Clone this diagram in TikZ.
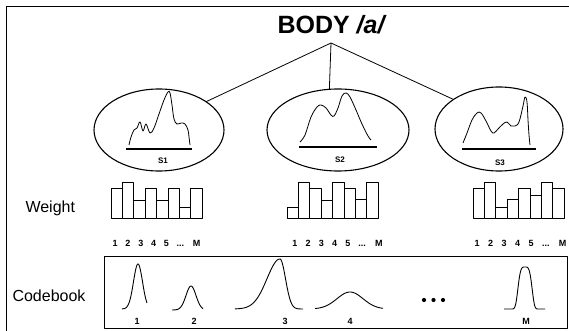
\documentclass[tikz,border=0pt]{standalone}
\usepackage{fontspec}
\setmainfont{Liberation Sans}
\usetikzlibrary{shapes.geometric}
\begin{document}
\begin{tikzpicture}[x=1pt,y=-1pt,line join=round,
  oval/.style={ellipse,draw,line width=1.1pt,inner sep=0pt,outer sep=0pt},
  link/.style={line width=0.8pt},
  spec/.style={line width=0.8pt},
  base/.style={line width=1.6pt},
  slbl/.style={font=\bfseries\fontsize{8}{8}\selectfont},
  bar/.style={draw,line width=0.8pt},
  idx/.style={font=\bfseries\fontsize{9}{9}\selectfont},
  side/.style={font=\fontsize{16}{16}\selectfont,anchor=base west},
  gauss/.style={line width=0.9pt,smooth}]
\useasboundingbox (0,0) rectangle (569,331);
% outer frame (clipped at right and bottom)
\draw[line width=1pt] (6.5,331) -- (6.5,7) -- (569,7);
% title
\node[anchor=base,inner sep=0pt,font=\bfseries\fontsize{25}{25}\selectfont] (title) at (331,34) {BODY \itshape/a/};
\coordinate (apex) at (331,43);
% ellipses
\node[oval,minimum width=130pt,minimum height=82pt] (e1) at (159,130) {};
\node[oval,minimum width=142pt,minimum height=82pt] (e2) at (338,130) {};
\node[oval,minimum width=128pt,minimum height=84pt] (e3) at (499,129) {};
\draw[link] (apex) -- (e1.31);
\draw[link] (apex) -- (e2.102);
\draw[link] (apex) -- (e3.147);
% spectra in ellipses
\draw[spec] plot[smooth,tension=0.6] coordinates {(129,145) (131,137) (134,130) (137,128) (140,122) (143,131) (146,124) (150,133) (154,128) (159,114) (164,100) (168,92) (170,93) (172,105) (174,119) (177,124) (181,123) (185,124) (188,130) (189,137) (190,145)};
\draw[base] (126,149) -- (192,149);
\node[slbl] (s1) at (163,161) {S1};
\draw[spec] plot[smooth,tension=0.6] coordinates {(300,142) (305,135) (311,117) (317,107) (321,105) (326,108) (331,115) (334,116) (338,108) (342,96) (346,93) (350,97) (356,110) (362,124) (368,136) (371,140)};
\draw[base] (299,147) -- (377,147);
\node[slbl] (s2) at (340,160) {S2};
\draw[spec] plot[smooth,tension=0.6] coordinates {(463,143) (467,133) (472,120) (477,113) (481,113) (486,121) (491,131) (494,133) (498,129) (503,124) (507,122) (511,126) (515,126) (519,122) (523,106) (525,97) (527,102) (528,120) (529,135) (530,145)};
\draw[base] (462,149) -- (536,149);
\node[slbl] (s3) at (500,163) {S3};
% weights
\node[side] (weight) at (22,212) {Weight};
\foreach \x/\t in {111/188,122.4/182,133.8/200,145.2/188,156.6/200,168/188,179.4/207,190.8/188}
  \draw[bar] (\x,218) rectangle ++(11.4,\t-218);
\foreach \x/\t in {287/207,298.4/182,309.8/188,321.2/200,332.6/182,344/188,355.4/199,366.8/182}
  \draw[bar] (\x,218) rectangle ++(11.4,\t-218);
\foreach \x/\t in {473/188,484.4/182,495.8/207,507.2/199,518.6/188,530/195,541.4/182,552.8/188}
  \draw[bar] (\x,218) rectangle ++(11.4,\t-218);
\node[idx] (w1) at (156.5,243) {\spaceskip=7.8pt 1 2 3 4 5 ... M};
\node[idx] (w2) at (337.5,243) {\spaceskip=8.2pt 1 2 3 4 5 ... M};
\node[idx] (w3) at (520.5,243) {\spaceskip=8.5pt 1 2 3 4 5 ... M};
% codebook
\node[side] (cbl) at (9,301) {Codebook};
\node[draw,line width=1pt,inner sep=0pt,minimum width=463pt,minimum height=72pt] (cb) at (335.5,292) {};
\draw[gauss] plot[domain=122:147,samples=60] (\x,{309-45*exp(-0.5*((\x-138)/4.5)^2)});
\draw[gauss] plot[domain=172:203,samples=50] (\x,{310-24*exp(-0.5*((\x-191)/5)^2)});
\draw[gauss] plot[domain=235:280,samples=50] (\x,{309-50*exp(-0.5*((\x-280)/13)^2)});
\draw[gauss] plot[domain=280:303,samples=40] (\x,{309-50*exp(-0.5*((\x-280)/5.5)^2)});
\draw[gauss] plot[domain=315:383,samples=60] (\x,{309-17*exp(-0.5*((\x-350)/13)^2)});
\draw[gauss] plot[domain=504:545,samples=80] (\x,{309-42*exp(-((((\x-525)/7.7)^2)^2))});
\node[idx] (c1) at (137,321) {1};
\node[idx] (c2) at (194,321) {2};
\node[idx] (c3) at (285,321) {3};
\node[idx] (c4) at (350,321) {4};
\node[idx] (cm) at (526,321) {M};
\fill (424,300) circle (2.1pt) (433.5,300) circle (2.1pt) (443,300) circle (2.1pt);
\end{tikzpicture}
\end{document}
